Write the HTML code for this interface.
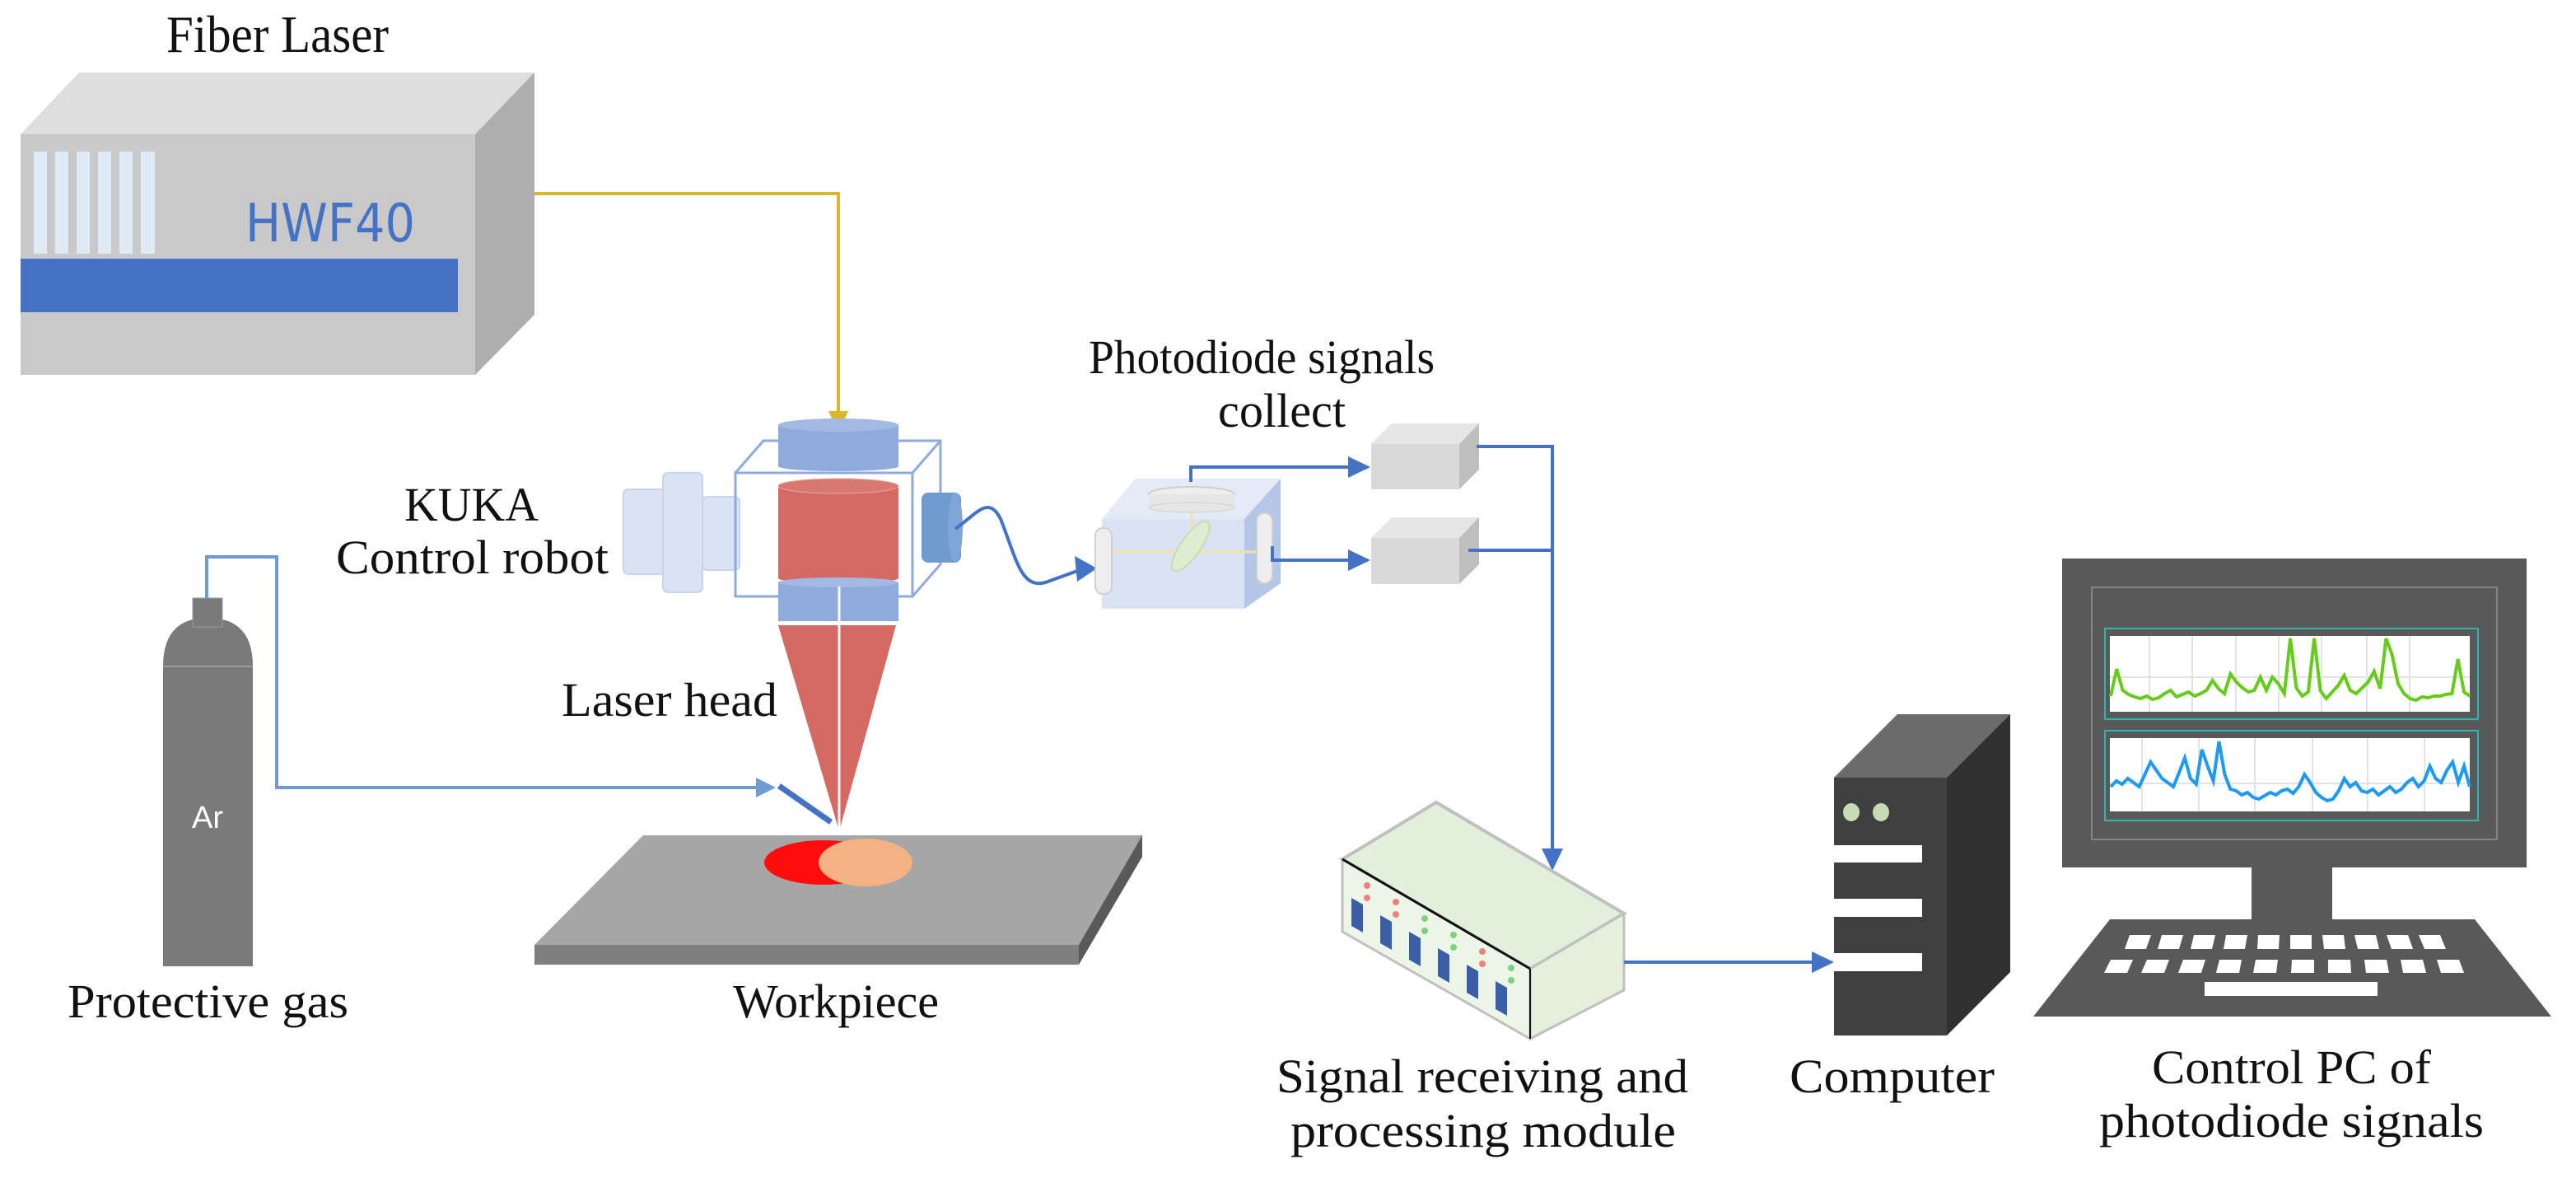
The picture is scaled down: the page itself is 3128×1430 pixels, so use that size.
<!DOCTYPE html>
<html><head><meta charset="utf-8"><style>
html,body{margin:0;padding:0;background:#fff;}
svg{display:block;}
text{font-family:"Liberation Serif",serif;fill:#111;}
</style></head><body>
<svg width="3128" height="1430" viewBox="0 0 3128 1430" xmlns="http://www.w3.org/2000/svg">
<defs>
<marker id="ab" markerWidth="10" markerHeight="10" refX="8" refY="5" orient="auto" markerUnits="userSpaceOnUse" viewBox="0 0 10 10"><path d="M0,0 L10,5 L0,10 z" fill="#4472c4"/></marker>
</defs>
<rect width="3128" height="1430" fill="#fff"/>

<!-- Fiber laser -->
<text x="202" y="63" font-size="64" textLength="270" lengthAdjust="spacingAndGlyphs">Fiber Laser</text>
<polygon points="25,163 96,88 649,88 577,163" fill="#dedede"/>
<polygon points="577,163 649,88 649,382 577,455" fill="#aeaeae"/>
<rect x="25" y="163" width="552" height="292" fill="#c9c9c9"/>
<g fill="#deebf7">
<rect x="41" y="184" width="16" height="124"/><rect x="67" y="184" width="16" height="124"/><rect x="93" y="184" width="16" height="124"/><rect x="119" y="184" width="16" height="124"/><rect x="145" y="184" width="16" height="124"/><rect x="171" y="184" width="17" height="124"/>
</g>
<rect x="25" y="314" width="531" height="65" fill="#4472c4"/>
<text x="298" y="293" font-size="64" style="font-family:'DejaVu Sans','Liberation Sans',sans-serif;fill:#4472c4" textLength="206" lengthAdjust="spacingAndGlyphs">HWF40</text>

<!-- yellow fiber -->
<polyline points="649,235 1018,235 1018,505" fill="none" stroke="#d9b92c" stroke-width="4"/>
<polygon points="1006,499 1030,499 1018,526" fill="#d9b92c"/>

<!-- KUKA labels -->
<text x="491" y="632" font-size="58" textLength="163" lengthAdjust="spacingAndGlyphs">KUKA</text>
<text x="408" y="696" font-size="58" textLength="331" lengthAdjust="spacingAndGlyphs">Control robot</text>

<!-- lens stack left -->
<g fill="#dae3f3" stroke="#c9d4ea" stroke-width="2">
<rect x="757" y="594" width="50" height="103" rx="6"/>
<rect x="805" y="574" width="48" height="145" rx="6"/>
<rect x="853" y="603" width="45" height="89" rx="6"/>
</g>
<!-- cube outline -->
<g fill="none" stroke="#8faadc" stroke-width="3">
<rect x="893" y="574" width="215" height="150"/>
<polyline points="893,574 927,535 1142,535 1142,685 1108,724"/>
<line x1="1108" y1="574" x2="1142" y2="535"/>
</g>
<!-- top blue cylinder -->
<rect x="945" y="516" width="146" height="50" fill="#8faadc"/>
<ellipse cx="1018" cy="516" rx="73" ry="8" fill="#a3b9e3"/>
<ellipse cx="1018" cy="566" rx="73" ry="6" fill="#8faadc"/>
<!-- red cylinder -->
<rect x="945" y="590" width="146" height="112" fill="#d46a63"/>
<ellipse cx="1018" cy="590" rx="73" ry="9" fill="#d9786f" stroke="#e8a9a3" stroke-width="1"/>
<ellipse cx="1018" cy="702" rx="73" ry="6" fill="#d46a63"/>
<!-- bottom blue -->
<rect x="945" y="707" width="146" height="47" fill="#8faadc"/>
<ellipse cx="1018" cy="707" rx="73" ry="6" fill="#a3b9e3"/>
<line x1="1019" y1="712" x2="1019" y2="754" stroke="#fff" stroke-width="3"/>
<!-- right dark disc -->
<rect x="1119" y="598" width="48" height="85" rx="8" fill="#6f9bd0"/>
<ellipse cx="1160" cy="640" rx="9" ry="42" fill="#7ea7d8"/>
<!-- cone -->
<polygon points="945,759 1088,759 1019,1009" fill="#d46a63"/>
<line x1="1019" y1="759" x2="1019" y2="1009" stroke="#fff" stroke-width="3"/>
<text x="682" y="869" font-size="58" textLength="262" lengthAdjust="spacingAndGlyphs">Laser head</text>

<!-- curved fiber to photodiode -->
<path d="M1160,642 C1185,625 1200,600 1215,630 C1235,680 1240,720 1275,705 C1295,698 1310,692 1318,690" fill="none" stroke="#4472c4" stroke-width="4"/>
<polygon points="1305,675 1332,690 1308,706" fill="#4472c4"/>

<!-- photodiode box -->
<text x="1322" y="453" font-size="58" textLength="420" lengthAdjust="spacingAndGlyphs">Photodiode signals</text>
<text x="1479" y="518" font-size="58" textLength="155" lengthAdjust="spacingAndGlyphs">collect</text>
<polygon points="1338,630 1379,581 1555,581 1511,630" fill="#e4eaf6"/>
<polygon points="1511,630 1555,581 1555,708 1511,739" fill="#b4c7e7"/>
<rect x="1338" y="630" width="173" height="109" fill="#dae3f3"/>
<ellipse cx="1447" cy="600" rx="52" ry="9" fill="#eeeeee" stroke="#cfcfcf" stroke-width="2"/>
<rect x="1395" y="600" width="104" height="16" fill="#e6e6e6"/>
<ellipse cx="1447" cy="616" rx="52" ry="6" fill="#e6e6e6" stroke="#cfcfcf" stroke-width="1"/>
<line x1="1447" y1="619" x2="1447" y2="670" stroke="#f2e2a8" stroke-width="3"/>
<line x1="1348" y1="670" x2="1528" y2="670" stroke="#f2e2a8" stroke-width="3"/>
<ellipse cx="1446" cy="663" rx="12" ry="36" fill="#dbeed0" stroke="#c5dcb4" stroke-width="2" transform="rotate(35 1446 663)"/>
<rect x="1330" y="641" width="20" height="80" rx="9" fill="#eeeeee" stroke="#d0d0d0" stroke-width="2"/>
<rect x="1526" y="623" width="19" height="85" rx="9" fill="#eeeeee" stroke="#d0d0d0" stroke-width="2"/>
<polyline points="1446,585 1446,567 1640,567" fill="none" stroke="#4472c4" stroke-width="4"/>
<polygon points="1637,554 1664,567 1637,580" fill="#4472c4"/>
<polyline points="1545,663 1545,680 1640,680" fill="none" stroke="#4472c4" stroke-width="4"/>
<polygon points="1637,667 1664,680 1637,693" fill="#4472c4"/>

<!-- gray boxes -->
<g>
<polygon points="1665,539 1690,514 1796,514 1772,539" fill="#e6e6e6"/>
<polygon points="1772,539 1796,514 1796,570 1772,594" fill="#bfbfbf"/>
<rect x="1665" y="539" width="107" height="55" fill="#d9d9d9"/>
<polygon points="1665,653 1690,628 1796,628 1772,653" fill="#e6e6e6"/>
<polygon points="1772,653 1796,628 1796,685 1772,709" fill="#bfbfbf"/>
<rect x="1665" y="653" width="107" height="56" fill="#d9d9d9"/>
</g>
<polyline points="1793,542 1885,542 1885,1035" fill="none" stroke="#4472c4" stroke-width="4"/>
<line x1="1783" y1="668" x2="1885" y2="668" stroke="#4472c4" stroke-width="4"/>
<polygon points="1872,1030 1898,1030 1885,1057" fill="#4472c4"/>

<!-- gas cylinder -->
<path d="M198,809 Q198,750 252,750 Q307,750 307,809 L307,1173 L198,1173 Z" fill="#7a7a7a"/>
<line x1="198" y1="809" x2="307" y2="809" stroke="#999" stroke-width="2"/>
<rect x="234" y="726" width="36" height="35" fill="#7a7a7a" stroke="#999" stroke-width="1"/>
<text x="252" y="1005" font-size="38" text-anchor="middle" style="font-family:'Liberation Sans',sans-serif;fill:#fff">Ar</text>
<polyline points="251,726 251,676 336,676 336,956 922,956" fill="none" stroke="#6f9bd0" stroke-width="4"/>
<polygon points="918,944 942,956 918,968" fill="#6f9bd0"/>
<line x1="946" y1="954" x2="1009" y2="998" stroke="#4472c4" stroke-width="7"/>
<text x="82" y="1235" font-size="58" textLength="341" lengthAdjust="spacingAndGlyphs">Protective gas</text>

<!-- workpiece -->
<polygon points="781,1014 1387,1014 1310,1147 649,1147" fill="#a6a6a6"/>
<rect x="649" y="1147" width="661" height="24" fill="#7f7f7f"/>
<polygon points="1310,1147 1387,1014 1387,1040 1310,1171" fill="#595959"/>
<ellipse cx="1000" cy="1047" rx="72" ry="27" fill="#ff0d0d"/>
<ellipse cx="1051" cy="1047" rx="57" ry="29" fill="#f4b183"/>
<text x="890" y="1235" font-size="58" textLength="250" lengthAdjust="spacingAndGlyphs">Workpiece</text>

<!-- switch module -->
<polygon points="1744,974 1972,1109 1858,1176 1630,1043" fill="#e2efda" stroke="#c0c0c0" stroke-width="4"/>
<polygon points="1630,1043 1858,1176 1858,1261 1630,1131" fill="#edf5e8" stroke="#c0c0c0" stroke-width="3"/>
<polygon points="1858,1176 1972,1109 1972,1202 1858,1261" fill="#e4efdc" stroke="#c0c0c0" stroke-width="3"/>
<line x1="1630" y1="1043" x2="1858" y2="1176" stroke="#111" stroke-width="3"/>
<line x1="1858" y1="1176" x2="1858" y2="1261" stroke="#111" stroke-width="2"/>
<g fill="#3b5fa6">
<polygon points="1641,1090 1655,1098 1655,1132 1641,1124"/>
<polygon points="1676,1111 1690,1119 1690,1153 1676,1145"/>
<polygon points="1711,1131 1725,1139 1725,1173 1711,1165"/>
<polygon points="1746,1151 1760,1159 1760,1193 1746,1185"/>
<polygon points="1781,1171 1795,1179 1795,1213 1781,1205"/>
<polygon points="1816,1191 1830,1199 1830,1233 1816,1225"/>
</g>
<g fill="#f08080"><circle cx="1660" cy="1075" r="4"/><circle cx="1660" cy="1090" r="4"/><circle cx="1695" cy="1095" r="4"/><circle cx="1695" cy="1110" r="4"/><circle cx="1800" cy="1155" r="4"/><circle cx="1800" cy="1170" r="4"/></g>
<g fill="#7ed07e"><circle cx="1730" cy="1115" r="4"/><circle cx="1730" cy="1130" r="4"/><circle cx="1765" cy="1135" r="4"/><circle cx="1765" cy="1150" r="4"/><circle cx="1835" cy="1175" r="4"/><circle cx="1835" cy="1190" r="4"/></g>
<line x1="1972" y1="1168" x2="2205" y2="1168" stroke="#4472c4" stroke-width="4"/>
<polygon points="2200,1155 2227,1168 2200,1181" fill="#4472c4"/>
<text x="1550" y="1326" font-size="58" textLength="500" lengthAdjust="spacingAndGlyphs">Signal receiving and</text>
<text x="1567" y="1392" font-size="58" textLength="468" lengthAdjust="spacingAndGlyphs">processing module</text>

<!-- computer tower -->
<polygon points="2227,944 2304,867 2441,867 2364,944" fill="#6b6b6b"/>
<polygon points="2364,944 2441,867 2441,1180 2364,1257" fill="#303030"/>
<rect x="2227" y="944" width="137" height="313" fill="#3f3f3f"/>
<ellipse cx="2248" cy="986" rx="10" ry="11" fill="#c5dcb4"/>
<ellipse cx="2284" cy="986" rx="10" ry="11" fill="#c5dcb4"/>
<rect x="2227" y="1026" width="107" height="21" fill="#fff"/>
<rect x="2227" y="1091" width="107" height="22" fill="#fff"/>
<rect x="2227" y="1157" width="107" height="22" fill="#fff"/>
<text x="2173" y="1326" font-size="58" textLength="249" lengthAdjust="spacingAndGlyphs">Computer</text>

<!-- monitor -->
<rect x="2504" y="678" width="564" height="375" fill="#595959"/>
<rect x="2540" y="713" width="492" height="306" fill="none" stroke="#858585" stroke-width="2"/>
<rect x="2556" y="763" width="453" height="110" fill="none" stroke="#2fb3b3" stroke-width="2"/>
<rect x="2562" y="772" width="437" height="92" fill="#fff"/>
<rect x="2556" y="887" width="453" height="109" fill="none" stroke="#2fb3b3" stroke-width="2"/>
<rect x="2562" y="896" width="437" height="89" fill="#fff"/>
<g stroke="#e3e3e3" stroke-width="2">
<line x1="2610" y1="772" x2="2610" y2="864"/><line x1="2662" y1="772" x2="2662" y2="864"/><line x1="2715" y1="772" x2="2715" y2="864"/><line x1="2767" y1="772" x2="2767" y2="864"/><line x1="2819" y1="772" x2="2819" y2="864"/><line x1="2874" y1="772" x2="2874" y2="864"/><line x1="2926" y1="772" x2="2926" y2="864"/>
<line x1="2562" y1="822" x2="2999" y2="822"/>
<line x1="2601" y1="896" x2="2601" y2="985"/><line x1="2670" y1="896" x2="2670" y2="985"/><line x1="2738" y1="896" x2="2738" y2="985"/><line x1="2808" y1="896" x2="2808" y2="985"/><line x1="2875" y1="896" x2="2875" y2="985"/><line x1="2944" y1="896" x2="2944" y2="985"/>
<line x1="2562" y1="951" x2="2999" y2="951"/>
</g>
<g transform="translate(2563,0) scale(7.27,1)">
<polyline vector-effect="non-scaling-stroke" fill="none" stroke="#66cc1a" stroke-width="4" points="0,845 1,812 2,838 3,843 4,846 5,848 6,845 7,849 8,847 9,842 10,838 11,846 12,843 13,840 14,845 15,842 16,838 17,826 18,836 19,842 20,818 21,828 22,835 23,840 24,838 25,822 26,838 27,822 28,830 29,842 30,775 31,835 32,845 33,840 34,775 35,838 36,848 37,840 38,832 39,820 40,838 41,842 42,835 43,828 44,815 45,836 46,775 47,795 48,830 49,842 50,848 51,850 52,846 53,847 54,845 55,845 56,843 57,842 58,800 59,840 60,845"/>
</g>
<g transform="translate(2563,0) scale(6.92,1)">
<polyline vector-effect="non-scaling-stroke" fill="none" stroke="#1e9bf0" stroke-width="4" points="0,955 1,948 2,952 3,945 4,950 5,955 6,940 7,925 8,935 9,945 10,950 11,955 12,938 13,920 14,945 15,952 16,910 17,930 18,948 19,900 20,940 21,958 22,960 23,965 24,962 25,968 26,970 27,966 28,962 29,965 30,960 31,958 32,963 33,955 34,940 35,950 36,962 37,968 38,972 39,970 40,960 41,945 42,955 43,950 44,960 45,962 46,958 47,965 48,960 49,955 50,962 51,958 52,950 53,945 54,955 55,948 56,930 57,945 58,950 59,935 60,925 61,950 62,930 63,955"/>
</g>
<rect x="2734" y="1053" width="98" height="63" fill="#595959"/>
<polygon points="2562,1116 3005,1116 3098,1234 2469,1234" fill="#595959"/>
<g fill="#fff">
<polygon points="2586,1135 2612,1135 2606,1152 2580,1152"/><polygon points="2625,1135 2651,1135 2646,1152 2620,1152"/><polygon points="2664,1135 2690,1135 2686,1152 2660,1152"/><polygon points="2703,1135 2729,1135 2726,1152 2700,1152"/><polygon points="2742,1135 2768,1135 2767,1152 2741,1152"/><polygon points="2781,1135 2807,1135 2807,1152 2781,1152"/><polygon points="2820,1135 2846,1135 2848,1152 2822,1152"/><polygon points="2859,1135 2885,1135 2889,1152 2863,1152"/><polygon points="2898,1135 2924,1135 2930,1152 2904,1152"/><polygon points="2937,1135 2963,1135 2970,1152 2944,1152"/>
<polygon points="2563,1165 2590,1165 2583,1181 2555,1181"/><polygon points="2607,1165 2634,1165 2628,1181 2600,1181"/><polygon points="2651,1165 2678,1165 2673,1181 2645,1181"/><polygon points="2695,1165 2722,1165 2719,1181 2691,1181"/><polygon points="2739,1165 2766,1165 2764,1181 2736,1181"/><polygon points="2783,1165 2810,1165 2810,1181 2782,1181"/><polygon points="2827,1165 2854,1165 2855,1181 2827,1181"/><polygon points="2871,1165 2898,1165 2901,1181 2873,1181"/><polygon points="2915,1165 2942,1165 2946,1181 2918,1181"/><polygon points="2959,1165 2986,1165 2992,1181 2964,1181"/>
<rect x="2677" y="1192" width="210" height="17"/>
</g>
<text x="2613" y="1315" font-size="58" textLength="339" lengthAdjust="spacingAndGlyphs">Control PC of</text>
<text x="2549" y="1380" font-size="58" textLength="467" lengthAdjust="spacingAndGlyphs">photodiode signals</text>
</svg>
</body></html>
